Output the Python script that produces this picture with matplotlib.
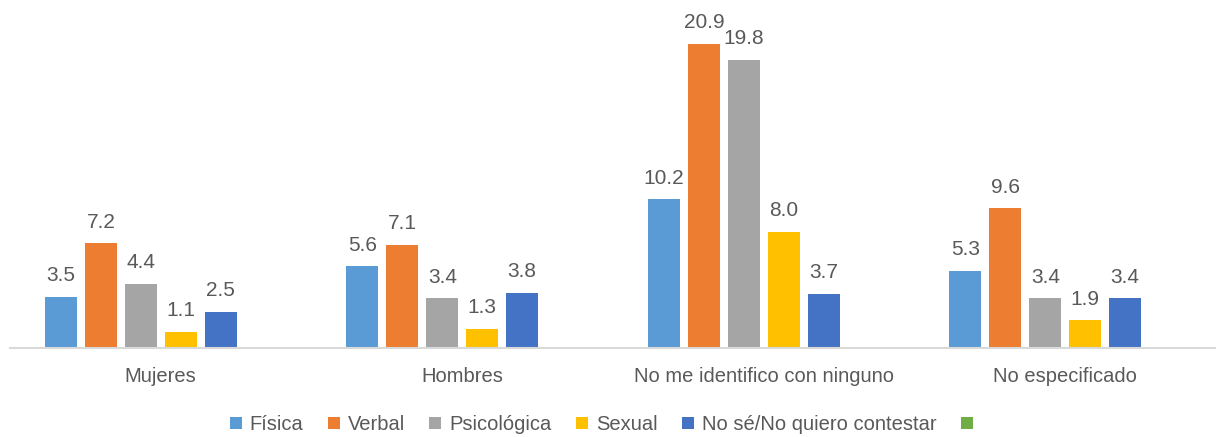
import matplotlib.pyplot as plt
import numpy as np

plt.rcParams['font.family'] = ['Liberation Sans Narrow', 'Liberation Sans', 'DejaVu Sans']

# datos
grupos = ['Mujeres', 'Hombres', 'No me identifico con ninguno', 'No especificado']
series = ['Física', 'Verbal', 'Psicológica', 'Sexual', 'No sé/No quiero contestar', '']
fisica = [3.5, 5.6, 10.2, 5.3]
verbal = [7.2, 7.1, 20.9, 9.6]
psicologica = [4.4, 3.4, 19.8, 3.4]
sexual = [1.1, 1.3, 8.0, 1.9]
no_se = [2.5, 3.8, 3.7, 3.4]
vacio = [None, None, None, None]
colores = ['#5B9BD5', '#ED7D31', '#A5A5A5', '#FFC000', '#4472C4', '#70AD47']

valores = [fisica, verbal, psicologica, sexual, no_se, vacio]

fig = plt.figure(figsize=(12.16, 4.37), dpi=100)
ax = fig.add_axes([10/1216, 89/437, 1206/1216, 348/437])

x = np.arange(len(grupos))
paso = 40/302
ancho = 32/302
for i, (nombre, vals, c) in enumerate(zip(series, valores, colores)):
    pos = x + (i - 2.5) * paso
    if vals[0] is None:
        # serie sin datos, solo aparece en la leyenda
        ax.bar(pos, [0]*len(pos), ancho, color=c, label=nombre if nombre else ' ')
        continue
    barras = ax.bar(pos, vals, ancho, color=c, label=nombre)
    for b, v in zip(barras, vals):
        ax.text(b.get_x() + b.get_width()/2, v + 0.8, f'{v:.1f}', ha='center', va='bottom',
                fontsize=15, color='#595959')

ax.set_xlim(-0.5, len(grupos) - 0.5)
ax.set_ylim(0, 23.9)
for s in ['top', 'right', 'left']:
    ax.spines[s].set_visible(False)
ax.spines['bottom'].set_color('#D9D9D9')
ax.spines['bottom'].set_linewidth(1.5)
ax.set_yticks([])
ax.set_xticks(x)
ax.set_xticklabels(grupos, fontsize=14.5, color='#595959')
ax.tick_params(axis='x', length=0, pad=14)

leg = fig.legend(loc='lower center', bbox_to_anchor=(0.5, -0.035), ncol=6, frameon=False,
                 fontsize=14.5, handlelength=0.6, handleheight=0.6, handletextpad=0.4,
                 columnspacing=1.2, labelcolor='#595959')

fig.savefig('out.png', dpi=100)
